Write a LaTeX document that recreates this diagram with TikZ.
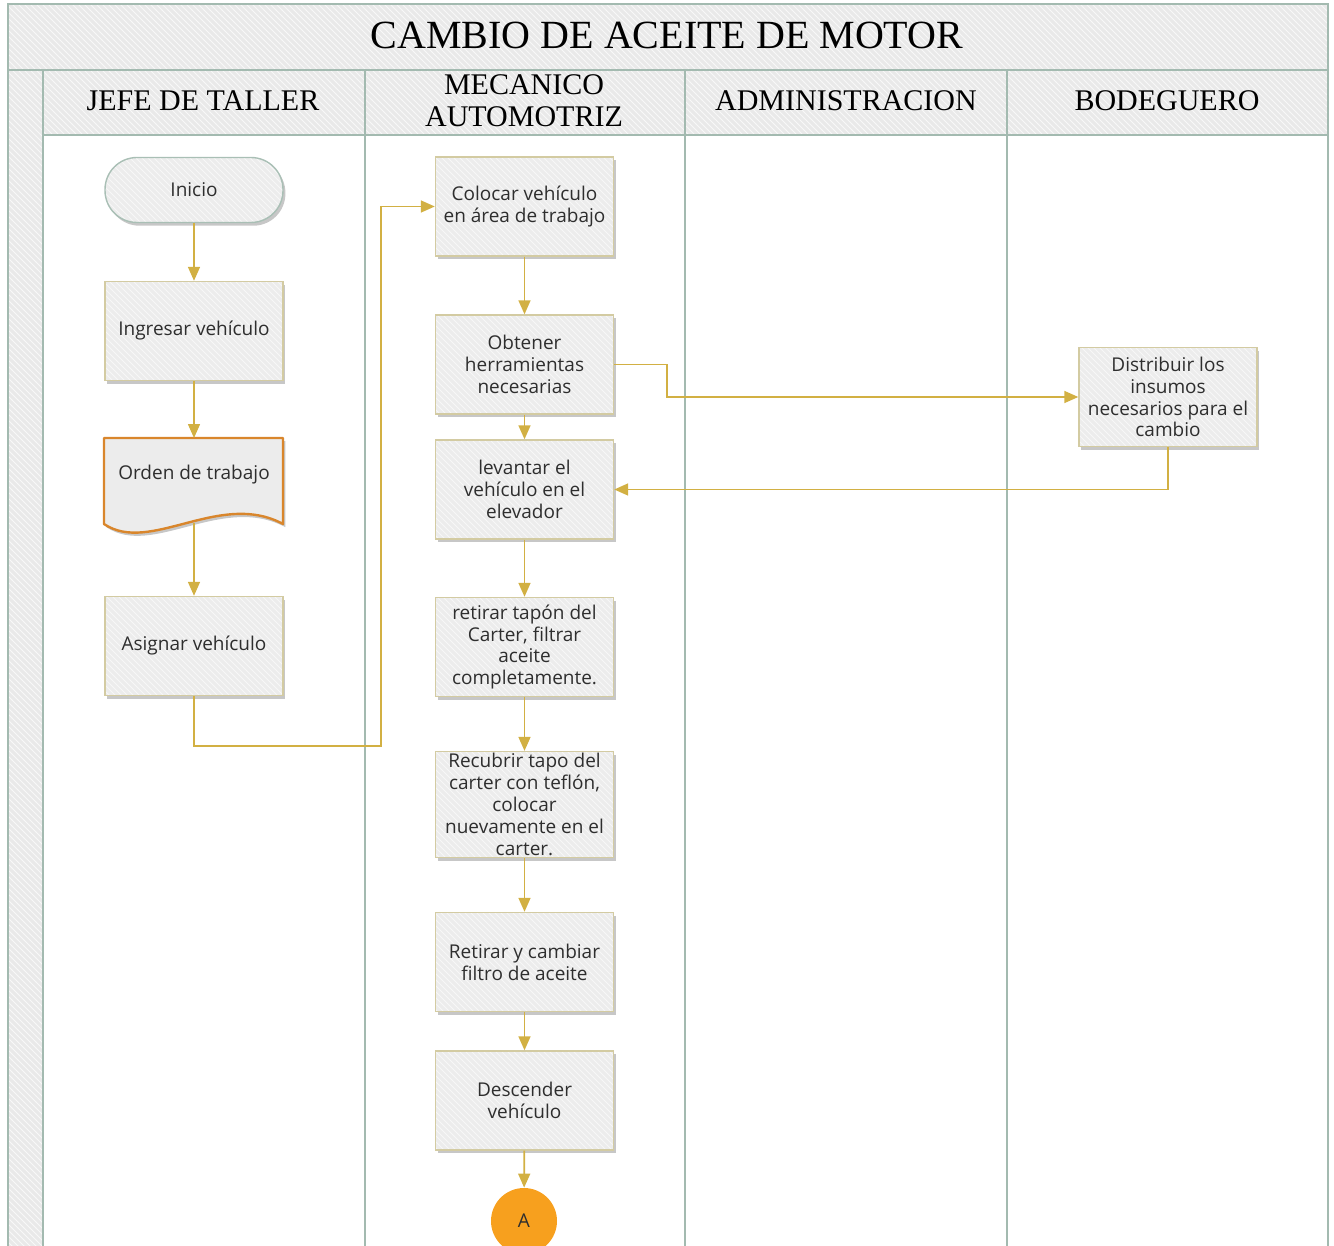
\documentclass[tikz,border=0pt]{standalone}
\usepackage{fontspec}
\setmainfont{Open Sans}
\newfontfamily\headfont{Liberation Serif}
\usetikzlibrary{arrows.meta,shadows,patterns,calc}

\definecolor{laneline}{HTML}{A3BAB0}
\definecolor{bandfill}{HTML}{E9E9E9}
\definecolor{boxfill}{HTML}{ECECEC}
\definecolor{boxline}{HTML}{D3CBA2}
\definecolor{startline}{HTML}{A9BFB5}
\definecolor{docline}{HTML}{D9862C}
\definecolor{flowcol}{HTML}{D2B043}
\definecolor{textcol}{HTML}{2E2E2E}
\definecolor{connfill}{HTML}{F7A01E}

\tikzset{
  hatch/.style={fill=bandfill, postaction={pattern=north west lines, pattern color=white!70!bandfill}},
  lane/.style={draw=laneline, line width=0.8pt},
  softshadow/.style={drop shadow={shadow xshift=1.2pt, shadow yshift=-1.6pt, opacity=0.22, fill=black}},
  task/.style={softshadow,
    preaction={fill=boxfill},
    preaction={pattern=north west lines, pattern color=white!60!boxfill},
    draw=boxline, line width=0.7pt,
    minimum width=89pt, minimum height=49.5pt, inner sep=1pt, align=center,
    text=textcol, font=\fontsize{9.5}{10.9}\selectfont},
  startnode/.style={task, draw=startline, rounded corners=16pt, minimum height=32.5pt},
  lanehead/.style={text=black, align=center, font=\headfont\fontsize{15}{16}\selectfont},
  flow/.style={draw=flowcol, line width=0.8pt, -{Triangle[length=7pt,width=6pt]}},
}

\begin{document}
\begin{tikzpicture}[x=0.5pt,y=-0.5pt]
\useasboundingbox (0,0) rectangle (1334,1246);
\begin{scope}
\clip (0,0) rectangle (1334,1246);

% pool frame, title band, side strip and lane headers
\path[hatch] (8,4) rectangle (1328,70);
\path[hatch] (8,70) rectangle (43,1260);
\path[hatch] (43,70) rectangle (1328,135);
\draw[lane] (8,4) rectangle (1328,1260);
\draw[lane] (8,70) -- (1328,70);
\draw[lane] (43,135) -- (1328,135);
\foreach \x in {43,365,685,1007}
  \draw[lane] (\x,70) -- (\x,1260);

\node[font=\headfont\fontsize{20}{22}\selectfont] (title) at (667,35) {CAMBIO DE ACEITE DE MOTOR};
\node[lanehead] (h1) at (203,101) {JEFE DE TALLER};
\node[lanehead] (h2) at (524,101) {MECANICO\\AUTOMOTRIZ};
\node[lanehead] (h3) at (846,101) {ADMINISTRACION};
\node[lanehead] (h4) at (1167,101) {BODEGUERO};

% jefe de taller
\node[startnode] (inicio) at (194,190) {Inicio};
\node[task] (ingresar) at (194,331) {Ingresar vehículo};

% document shape with wavy bottom
\path[fill=boxfill, softshadow, draw=docline, line width=1.2pt, line join=round]
  (104,438) -- (283,438) -- (283,524)
  .. controls (220,490) and (150,555) .. (104,524) -- cycle;
\node[text=textcol, font=\fontsize{9.5}{10.9}\selectfont] (orden) at (194,475) {Orden de trabajo};
\coordinate (ordentop) at (194,438);
\coordinate (ordenbot) at (194,523);

\node[task] (asignar) at (194,646) {Asignar vehículo};

% mecanico automotriz
\node[task] (colocar) at (524.5,206.5) {Colocar vehículo\\en área de trabajo};
\node[task] (obtener) at (524.5,364.5) {Obtener\\herramientas\\necesarias};
\node[task] (levantar) at (524.5,489.5) {levantar el\\vehículo en el\\elevador};
\node[task] (retirar) at (524.5,647) {retirar tapón del\\Carter, filtrar\\aceite\\completamente.};
\node[task] (recubrir) at (524.5,804.5) {Recubrir tapo del\\carter con teflón,\\colocar\\nuevamente en el\\carter.};
\node[task] (cambiar) at (524.5,962) {Retirar y cambiar\\filtro de aceite};
\node[task] (descender) at (524.5,1100.5) {Descender\\vehículo};
\node[circle, fill=connfill, minimum size=33pt, inner sep=0pt, text=textcol,
  font=\fontsize{9.5}{10}\selectfont] (conA) at (524,1221) {A};

% bodeguero
\node[task] (distribuir) at (1168,397) {Distribuir los\\insumos\\necesarios para el\\cambio};

% connectors
\draw[flow] (inicio) -- (ingresar);
\draw[flow] (ingresar) -- (ordentop);
\draw[flow] (ordenbot) -- (asignar);
\draw[flow] (asignar.south) -- ++(0,50) -| (381,206.5) -- (colocar.west);
\draw[flow] (colocar) -- (obtener);
\draw[flow] (obtener) -- (levantar);
\draw[flow] (levantar) -- (retirar);
\draw[flow] (retirar) -- (recubrir);
\draw[flow] (recubrir) -- (cambiar);
\draw[flow] (cambiar) -- (descender);
\draw[flow] (descender) -- (conA);
\draw[flow] (obtener.east) -- (667,364.5) |- (distribuir.west);
\draw[flow] (distribuir.south) |- (levantar.east);
\end{scope}
\end{tikzpicture}
\end{document}
